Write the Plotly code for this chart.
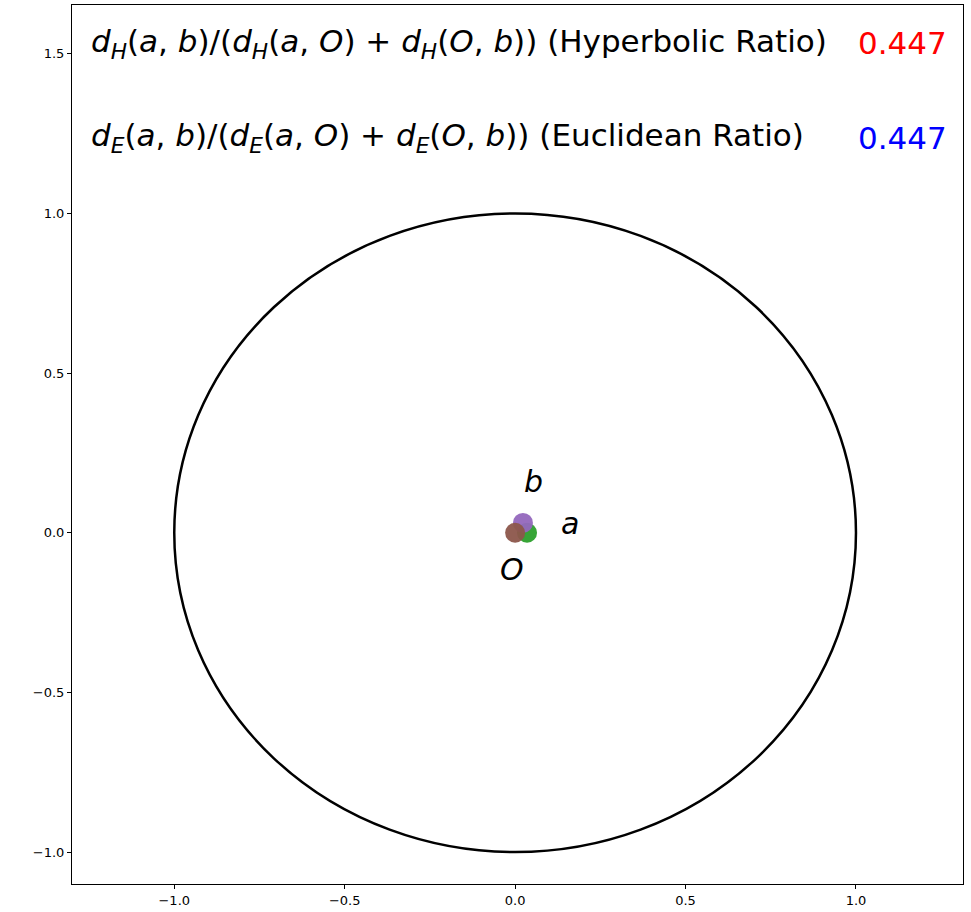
import plotly.graph_objects as go

# Points (data coordinates)
point_names = ["a", "b", "O"]
point_x = [0.035, 0.023, 0.0]
point_y = [0.0, 0.031, 0.0]
point_colors = ["#2ca02c", "#9467bd", "#8c564b"]

# Point labels
label_text = ["a", "b", "O"]
label_x = [0.16, 0.055, -0.01]
label_y = [0.03, 0.16, -0.115]

# Ratio texts
ratio_labels = [
    "<i>d</i><sub><i>H</i></sub>(<i>a</i>, <i>b</i>)/(<i>d</i><sub><i>H</i></sub>(<i>a</i>, <i>O</i>) + <i>d</i><sub><i>H</i></sub>(<i>O</i>, <i>b</i>)) (Hyperbolic Ratio)",
    "<i>d</i><sub><i>E</i></sub>(<i>a</i>, <i>b</i>)/(<i>d</i><sub><i>E</i></sub>(<i>a</i>, <i>O</i>) + <i>d</i><sub><i>E</i></sub>(<i>O</i>, <i>b</i>)) (Euclidean Ratio)",
]
ratio_values = [0.447, 0.447]
ratio_colors = ["red", "blue"]
ratio_y = [1.534, 1.2375]
ratio_text_x = -1.25
ratio_value_x = 1.272

# Unit circle
circle_radius = 1.0

xticks = [-1.0, -0.5, 0.0, 0.5, 1.0]
yticks = [-1.0, -0.5, 0.0, 0.5, 1.0, 1.5]

fig = go.Figure()

for i in range(len(point_names)):
    fig.add_trace(go.Scatter(
        x=[point_x[i]], y=[point_y[i]], mode="markers",
        marker=dict(size=20, color=point_colors[i], opacity=0.95, line=dict(width=0)),
        showlegend=False, hoverinfo="skip"))

fig.add_shape(type="circle", xref="x", yref="y",
              x0=-circle_radius, y0=-circle_radius, x1=circle_radius, y1=circle_radius,
              line=dict(color="black", width=2.5))

for t, x, y in zip(label_text, label_x, label_y):
    fig.add_annotation(x=x, y=y, text="<i>%s</i>" % t, showarrow=False,
                       font=dict(family="DejaVu Sans", size=30, color="black"),
                       xanchor="center", yanchor="middle")

for lab, val, col, y in zip(ratio_labels, ratio_values, ratio_colors, ratio_y):
    fig.add_annotation(x=ratio_text_x, y=y, text=lab, showarrow=False,
                       font=dict(family="DejaVu Sans", size=31, color="black"),
                       xanchor="left", yanchor="middle")
    fig.add_annotation(x=ratio_value_x, y=y, text="%.3f" % val, showarrow=False,
                       font=dict(family="DejaVu Sans", size=31, color=col),
                       xanchor="right", yanchor="middle")

axis_common = dict(showgrid=False, zeroline=False, showline=True, linecolor="black",
                   linewidth=1, mirror=True, ticks="outside", ticklen=4, tickwidth=1,
                   tickcolor="black", tickfont=dict(family="DejaVu Sans", size=13, color="black"),
                   tickformat=".1f")

fig.update_xaxes(range=[-1.3, 1.314], tickvals=xticks, **axis_common)
fig.update_yaxes(range=[-1.1, 1.653], tickvals=yticks, **axis_common)

fig.update_layout(width=971, height=912, plot_bgcolor="white", paper_bgcolor="white",
                  margin=dict(l=72, r=8, t=4, b=27), showlegend=False)

fig.write_html("out.html")
